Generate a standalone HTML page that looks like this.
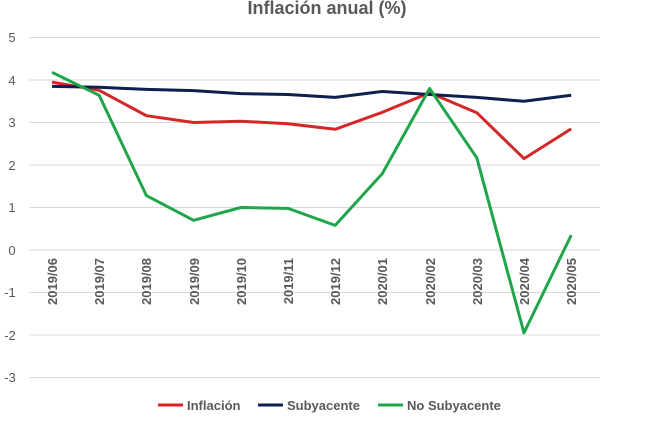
<!DOCTYPE html>
<html><head><meta charset="utf-8"><style>body{margin:0;background:#fff}</style></head><body>
<svg width="653" height="428" xmlns="http://www.w3.org/2000/svg" font-family="Liberation Sans, sans-serif">
<rect width="653" height="428" fill="#fff"/>
<text x="327" y="14" text-anchor="middle" font-size="18" font-weight="bold" fill="#595959">Inflación anual (%)</text>
<g stroke="#d9d9d9" stroke-width="1">
<line x1="29" x2="600" y1="37.5" y2="37.5"/><line x1="29" x2="600" y1="80" y2="80"/>
<line x1="29" x2="600" y1="122.5" y2="122.5"/><line x1="29" x2="600" y1="165" y2="165"/>
<line x1="29" x2="600" y1="207.5" y2="207.5"/><line x1="29" x2="600" y1="250" y2="250"/>
<line x1="29" x2="600" y1="292.5" y2="292.5"/><line x1="29" x2="600" y1="335" y2="335"/>
<line x1="29" x2="600" y1="377.5" y2="377.5"/>
</g>
<g font-size="13" fill="#595959" text-anchor="middle">
<text x="12" y="42">5</text><text x="12" y="85">4</text><text x="12" y="127">3</text><text x="12" y="170">2</text><text x="12" y="212">1</text><text x="12" y="255">0</text><text x="10" y="297">-1</text><text x="10" y="340">-2</text><text x="10" y="382">-3</text>
</g>
<g font-size="13" font-weight="bold" fill="#595959" text-anchor="end">
<text transform="translate(57,258) rotate(-90)">2019/06</text>
<text transform="translate(104,258) rotate(-90)">2019/07</text>
<text transform="translate(151,258) rotate(-90)">2019/08</text>
<text transform="translate(199,258) rotate(-90)">2019/09</text>
<text transform="translate(246,258) rotate(-90)">2019/10</text>
<text transform="translate(293,258) rotate(-90)">2019/11</text>
<text transform="translate(340,258) rotate(-90)">2019/12</text>
<text transform="translate(387,258) rotate(-90)">2020/01</text>
<text transform="translate(435,258) rotate(-90)">2020/02</text>
<text transform="translate(482,258) rotate(-90)">2020/03</text>
<text transform="translate(529,258) rotate(-90)">2020/04</text>
<text transform="translate(576,258) rotate(-90)">2020/05</text>
</g>
<g fill="none" stroke-width="3" stroke-linejoin="round">
<polyline stroke="#d62728" stroke="#e02020" points="52,82.1 99.2,90.3 146.4,115.7 193.6,122.5 240.8,121.2 288,123.8 335.2,129.3 382.4,112.3 429.6,92.8 476.8,112.7 524,158.6 571.2,128.9"/>
<polyline stroke="#0f1f4f" points="52,86.4 99.2,87.3 146.4,89.4 193.6,90.6 240.8,93.6 288,94.5 335.2,97.4 382.4,91.5 429.6,94.5 476.8,97.4 524,101.3 571.2,95.3"/>
<polyline stroke="#1fa64a" points="52,72.3 99.2,95.3 146.4,195.6 193.6,220.3 240.8,207.5 288,208.4 335.2,225.4 382.4,173.5 429.6,88.5 476.8,157.8 524,332.9 571.2,235.1"/>
</g>
<g font-size="13" font-weight="bold" fill="#595959">
<line x1="158" x2="183" y1="405" y2="405" stroke="#e02020" stroke-width="3"/><text x="187" y="410">Inflación</text>
<line x1="258" x2="283" y1="405" y2="405" stroke="#0f1f4f" stroke-width="3"/><text x="287" y="410">Subyacente</text>
<line x1="378" x2="403" y1="405" y2="405" stroke="#1fa64a" stroke-width="3"/><text x="407" y="410">No Subyacente</text>
</g>
</svg>
</body></html>
